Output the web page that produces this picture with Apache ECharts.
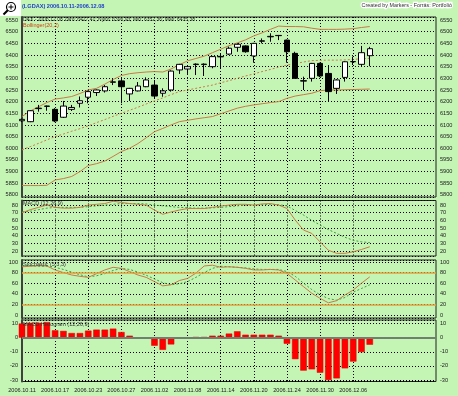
<!DOCTYPE html>
<html><head><meta charset="utf-8">
<script src="https://cdn.jsdelivr.net/npm/echarts@6/dist/echarts.min.js"></script>
<style>html,body{margin:0;padding:0;background:#c5f5b5}#c{width:458px;height:396px}</style>
</head><body><div id="c"></div>
<script>
// ---- DATA ----
const dates = ['2006.10.11','2006.10.12','2006.10.13','2006.10.16','2006.10.17','2006.10.18','2006.10.19','2006.10.20','2006.10.23','2006.10.24','2006.10.25','2006.10.26','2006.10.27','2006.10.30','2006.10.31','2006.11.01','2006.11.02','2006.11.03','2006.11.06','2006.11.07','2006.11.08','2006.11.09','2006.11.10','2006.11.13','2006.11.14','2006.11.15','2006.11.16','2006.11.17','2006.11.20','2006.11.21','2006.11.22','2006.11.23','2006.11.24','2006.11.27','2006.11.28','2006.11.29','2006.11.30','2006.12.01','2006.12.04','2006.12.05','2006.12.06','2006.12.07','2006.12.08'];
const padDates = ['2006.12.11','2006.12.12','2006.12.13','2006.12.14','2006.12.15','2006.12.18','2006.12.19','2006.12.20'];
const opens  = [6118,6114,6170,6181,6167,6133,6167,6193,6219,6239,6246,6283,6289,6233,6246,6264,6271,6236,6250,6336,6340,6359,6359,6350,6392,6404,6433,6439,6396,6459,6478,6484,6464,6407,6288,6300,6364,6321,6257,6304,6371,6360,6397];
const closes = [6124,6161,6172,6180,6117,6181,6175,6204,6243,6250,6264,6285,6264,6257,6267,6293,6224,6246,6331,6360,6350,6361,6361,6393,6394,6429,6446,6414,6450,6461,6480,6483,6414,6300,6290,6364,6310,6243,6293,6371,6372,6410,6427];
const lows   = [6112,6112,6157,6161,6112,6130,6160,6175,6193,6224,6239,6271,6193,6203,6244,6262,6214,6221,6243,6319,6319,6314,6310,6343,6343,6400,6414,6410,6367,6450,6457,6464,6367,6300,6250,6286,6305,6200,6233,6286,6357,6353,6352];
const highs  = [6127,6163,6186,6183,6172,6203,6186,6222,6247,6252,6271,6296,6300,6259,6284,6304,6293,6257,6334,6362,6357,6364,6364,6396,6407,6436,6450,6441,6452,6471,6493,6486,6466,6414,6307,6366,6367,6357,6296,6373,6393,6439,6435];
const bollUpper = [6136,6160,6178,6196,6211,6216,6222,6235,6250,6257,6275,6295,6312,6320,6324,6327,6329,6327,6340,6358,6375,6385,6395,6410,6425,6440,6452,6465,6482,6495,6510,6524,6522,6522,6521,6515,6510,6510,6510,6511,6513,6518,6522];
const bollMid   = [5993,6007,6021,6036,6050,6061,6073,6084,6096,6110,6123,6137,6150,6163,6176,6190,6203,6216,6230,6243,6250,6257,6264,6271,6281,6290,6300,6310,6319,6329,6338,6348,6357,6363,6370,6376,6377,6378,6378,6379,6381,6384,6386];
const bollLower = [5840,5840,5840,5841,5864,5870,5879,5900,5926,5934,5945,5965,5986,6000,6020,6045,6071,6085,6100,6114,6120,6126,6131,6136,6148,6160,6172,6180,6186,6191,6196,6200,6214,6224,6230,6236,6247,6250,6250,6251,6252,6253,6254];
const macdLine   = [70,74,77,80,77,76,76,77,80,81,82,85,83.5,82,81,80,73.5,68,71,73.5,75.5,75.5,75.5,77,78.7,80,81,81,80,81.5,82,80,75.6,60.4,47.4,43,32,21,17,17,19,22,25.6];
const signalLine = [71,72,74,76,77,77,77,77,78,79,80,81,82,82,82,81.5,80,79,78,77,76.5,76,76,76.5,77,78,79,80,80,80.5,81,80.5,79,73,67,60,54,48,43,38,34,32,31];
const stochK = [91,92,93,92.5,85,80,75.5,73,71,78,85,90,88,82,75.5,71,63,55,57,65,69,79,92.5,94,90,91,90,88,85,85,86,85,78.6,66,53.5,41,31.4,23,27,37.7,47,60,72];
const stochD = [93,93,92,92,90,86,81,76,72,74,78,84,88,86,81,75,68,61,57,59,63,71,80,88,92,91,90,89,87,86,86,86,82,73,60,48,38,31,28,33,43,50,57];
const histogram = [10,10.5,10.5,11,5.2,4.8,3.3,3.3,5,5.7,5.7,6.4,4,1.4,0.2,-0.3,-5.7,-8.6,-4.8,-0.4,0.1,0.5,0.5,1.4,1.4,2.9,4.5,2.1,2.1,2.1,2.1,1.4,-4.3,-15.2,-23.3,-22.4,-24.8,-30,-28.8,-21.7,-16.9,-10.2,-5];
const stochLevels = [80, 20];
const headerText = '(LGDAX) 2006.10.11-2006.12.08';
const creditText = 'Created by Markers - Forrás: Portfolió';
const infoText = 'DAX - 2006.12.08 Záró: 6427,41; Nyitó: 6396,93; Min: 6352,36; Max: 6435,38';
const panelTitles = ['Bollinger(20,2)', 'MACD (12,26,9)', 'Stochastic (5,3,3)', 'MACD Histogram (12,26,9)'];

// ---- CHART ----
const FONT = '"Liberation Sans",Arial,sans-serif';
const categories = dates.concat(padDates);
const lastLabel = dates.length - 3; // 2006.12.06
const showTick = (i) => i % 4 === 0 && i <= lastLabel;
const candleData = opens.map((o, i) => [o, closes[i], lows[i], highs[i]]);

const grids = [
  {left: 22, right: 22, top: 17, height: 180},
  {left: 22, right: 22, top: 200.5, height: 55.5},
  {left: 22, right: 22, top: 260, height: 58},
  {left: 22, right: 22, top: 320, height: 61.5}
].map(g => Object.assign(g, {show: true, borderColor: '#202020', borderWidth: 1}));

const ranges = [
  {min: 5791, max: 6563, split: 15, step: 50},
  {min: 13.5, max: 86, split: 7, step: 10},
  {min: -5.7, max: 103.8, split: 5, step: 20},
  {min: -31, max: 12.5, split: 4, step: 10}
];
const dotted = {color: '#000', width: 1, type: [1, 2]};
const labelStyle = {fontSize: 5.6, color: '#202020', fontFamily: FONT};

const xAxes = grids.map((g, gi) => ({
  type: 'category', gridIndex: gi, data: categories, boundaryGap: false,
  axisLine: {show: false}, axisTick: {show: false},
  axisLabel: Object.assign({show: gi === 3, interval: showTick, margin: 6}, labelStyle),
  splitLine: {show: true, interval: showTick, lineStyle: dotted}
}));
const yAxes = [];
ranges.forEach((r, gi) => {
  const fmt = (v) => (Math.abs(v / r.step - Math.round(v / r.step)) < 1e-6 ? String(Math.round(v)) : '');
  yAxes.push({
    type: 'value', gridIndex: gi, position: 'left', min: r.min, max: r.max, splitNumber: r.split,
    axisLine: {show: true, lineStyle: {color: '#404040', width: 2}}, axisTick: {show: false},
    axisLabel: Object.assign({formatter: fmt, margin: 4}, labelStyle),
    splitLine: {show: true, lineStyle: dotted}
  });
  yAxes.push({
    type: 'value', gridIndex: gi, position: 'right', min: r.min, max: r.max, splitNumber: r.split,
    axisLine: {show: false}, axisTick: {show: false},
    axisLabel: Object.assign({formatter: fmt, margin: 4}, labelStyle),
    splitLine: {show: false}
  });
});

const brown = '#c87a46';
const green = '#3c9c3c';
const line = (data, xi, yi, color, type, z) => ({
  type: 'line', data, xAxisIndex: xi, yAxisIndex: yi, symbol: 'none', silent: true, z: z || 2,
  lineStyle: {color, width: 1, type: type || 'solid'}
});

const series = [
  line(bollUpper, 0, 0, brown),
  line(bollMid, 0, 0, brown, [2, 2]),
  line(bollLower, 0, 0, brown),
  {type: 'candlestick', data: candleData, xAxisIndex: 0, yAxisIndex: 0, barWidth: 6, z: 3,
   itemStyle: {color: '#ffffff', color0: '#000000', borderColor: '#000000', borderColor0: '#000000', borderWidth: 1}},
  line(signalLine, 1, 2, green, [2, 2]),
  line(macdLine, 1, 2, brown, 'solid', 3),
  Object.assign(line(stochD, 2, 4, green, [2, 2]), {
    markLine: {silent: true, symbol: 'none', label: {show: false},
      lineStyle: {color: '#e0a040', width: 1.5, type: 'solid'},
      data: stochLevels.map(v => ({yAxis: v}))}
  }),
  line(stochK, 2, 4, brown, 'solid', 3),
  {type: 'bar', data: histogram, xAxisIndex: 3, yAxisIndex: 6, barWidth: 6.5, silent: true,
   itemStyle: {color: '#ff0000', borderColor: '#e00000', borderWidth: 0.5},
   markLine: {silent: true, symbol: 'none', label: {show: false},
     lineStyle: {color: '#708070', width: 2, type: 'solid'}, data: [{yAxis: 0}]}}
];

const txt = (text, x, y, fill, extra) => ({
  type: 'text', x, y, silent: true, z: 100,
  style: Object.assign({text, fill, font: '5.5px ' + FONT, textVerticalAlign: 'middle'}, extra || {})
});

const graphic = [
  {type: 'rect', shape: {x: 0, y: 0, width: 21, height: 16}, style: {fill: '#ffffff'}, silent: true},
  {type: 'circle', shape: {cx: 11, cy: 7, r: 4.5}, style: {fill: '#ffffff', stroke: '#000', lineWidth: 1.2}, silent: true},
  {type: 'line', shape: {x1: 7.8, y1: 10.2, x2: 3.5, y2: 14.5}, style: {stroke: '#000', lineWidth: 2}, silent: true},
  {type: 'line', shape: {x1: 8.5, y1: 7, x2: 13.5, y2: 7}, style: {stroke: '#000', lineWidth: 1}, silent: true},
  {type: 'line', shape: {x1: 11, y1: 4.5, x2: 11, y2: 9.5}, style: {stroke: '#000', lineWidth: 1}, silent: true},
  txt(headerText, 22, 6, '#2040c8', {font: 'bold 5.6px ' + FONT}),
  txt(creditText, 452, 6, '#303030', {textAlign: 'right', stroke: '#ffffff', lineWidth: 2.5, font: '5.4px ' + FONT}),
  txt(infoText, 23, 19.5, '#303030', {font: '5px ' + FONT}),
  txt(panelTitles[0], 23, 25.5, '#d04010'),
  txt(panelTitles[1], 23, 203.5, '#303030'),
  txt(panelTitles[2], 23, 264, '#303030'),
  txt(panelTitles[3], 23, 324, '#303030')
];

const chart = echarts.init(document.getElementById('c'), null, {renderer: 'canvas'});
chart.setOption({
  animation: false,
  backgroundColor: '#c5f5b5',
  grid: grids, xAxis: xAxes, yAxis: yAxes, series, graphic
});
</script></body></html>
